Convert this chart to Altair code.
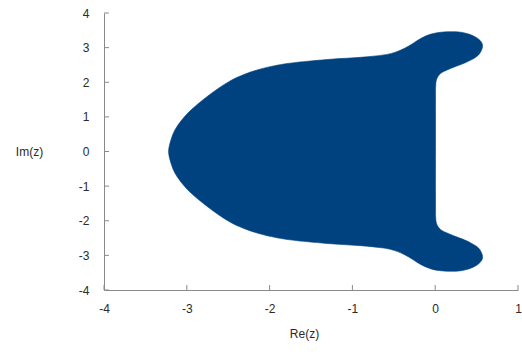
import altair as alt
import pandas as pd

# Boundary of the stability region, traced counter-clockwise from the
# leftmost point on the real axis: upper half first, then lower half.
re_upper = [-3.22, -3.192, -3.144, -3.071, -2.975, -2.866, -2.745, -2.612, -2.467, -2.31,
            -2.129, -1.924, -1.682, -1.26, -0.90, -0.62, -0.48, -0.37,
            -0.27, -0.17, -0.05, 0.07, 0.20, 0.31, 0.42, 0.51, 0.56, 0.572,
            0.55, 0.51, 0.43, 0.35, 0.24, 0.15, 0.08, 0.04, 0.015, 0.006,
            0.004, 0.004]
im_upper = [0.0, 0.332, 0.621, 0.881, 1.142, 1.373, 1.604, 1.835, 2.052, 2.225,
            2.37, 2.486, 2.572, 2.665, 2.72, 2.79, 2.87, 2.98,
            3.12, 3.27, 3.39, 3.445, 3.46, 3.445, 3.38, 3.27, 3.15, 3.03,
            2.88, 2.76, 2.64, 2.55, 2.45, 2.36, 2.28, 2.19, 2.07, 1.90,
            1.55, 0.0]
re_lower = [0.004, 0.004, 0.006, 0.015, 0.04, 0.08, 0.15, 0.24, 0.35, 0.43,
            0.51, 0.55, 0.572, 0.56, 0.51, 0.42, 0.31, 0.20, 0.07, -0.05,
            -0.17, -0.27, -0.37, -0.48, -0.62, -0.90, -1.26, -1.682, -1.924, -2.129,
            -2.31, -2.467, -2.612, -2.745, -2.866, -2.975, -3.071, -3.144, -3.192]
im_lower = [-0.30, -1.55, -1.90, -2.07, -2.19, -2.28, -2.36, -2.45, -2.55, -2.64,
            -2.76, -2.88, -3.03, -3.15, -3.27, -3.38, -3.445, -3.46, -3.445, -3.39,
            -3.27, -3.12, -2.98, -2.87, -2.79, -2.72, -2.665, -2.572, -2.486, -2.37,
            -2.225, -2.052, -1.835, -1.604, -1.373, -1.142, -0.881, -0.621, -0.332]

x_ticks = [-4, -3, -2, -1, 0, 1]
y_ticks = [-4, -3, -2, -1, 0, 1, 2, 3, 4]

W, H = 414, 277
FILL = "#00427f"
AXIS = "#8a8a8a"
TEXT = "#2a2a2a"
FONT = "Liberation Sans"

re_all = re_upper + re_lower
im_all = im_upper + im_lower
region = pd.DataFrame({"re": re_all, "im": im_all, "i": range(len(re_all))})

xs = alt.Scale(domain=[-4, 1], nice=False, zero=False)
ys = alt.Scale(domain=[-4, 4], nice=False, zero=False)

common = dict(
    ticks=False, tickSize=0, grid=False, domainColor=AXIS, domainWidth=1,
    labelFont=FONT, labelFontSize=12, labelColor=TEXT, labelOverlap=False,
    labelFlush=False, labelExpr="datum.value + ''",
    titleFont=FONT, titleFontSize=12, titleFontWeight="normal", titleColor=TEXT,
)
x_axis = alt.Axis(values=x_ticks, labelPadding=13, title="Re(z)",
                  titleX=200, titleY=43, titleBaseline="middle", **common)
y_axis = alt.Axis(values=y_ticks, labelPadding=15, title="Im(z)",
                  titleAngle=0, titleAlign="center", titleBaseline="middle",
                  titleX=-75, titleY=H / 2, **common)

shape = alt.Chart(region).mark_line(
    filled=True, fill=FILL, stroke=FILL, strokeWidth=0.6, interpolate="cardinal-closed"
).encode(
    x=alt.X("re:Q", scale=xs, axis=x_axis),
    y=alt.Y("im:Q", scale=ys, axis=y_axis),
    order="i:Q",
)

# Inward-pointing tick marks (same fields and axes so the shared axes merge cleanly)
xt = alt.Chart(pd.DataFrame({"re": x_ticks})).mark_rule(color=AXIS, strokeWidth=1).encode(
    x=alt.X("re:Q", scale=xs, axis=x_axis), y=alt.value(H), y2=alt.value(H - 5))
yt = alt.Chart(pd.DataFrame({"im": y_ticks})).mark_rule(color=AXIS, strokeWidth=1).encode(
    y=alt.Y("im:Q", scale=ys, axis=y_axis), x=alt.value(0), x2=alt.value(5))

chart = alt.layer(shape, xt, yt).properties(
    width=W, height=H,
    autosize=alt.AutoSizeParams(type="none"),
    padding={"left": 104, "top": 13, "right": 4, "bottom": 68},
    background="white",
).configure_view(stroke=None)

chart.save("out.html", embed_options={"renderer": "svg", "actions": False})
